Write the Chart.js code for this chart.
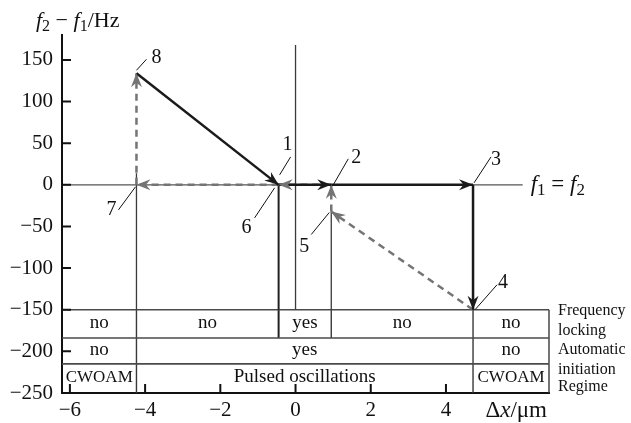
<!DOCTYPE html>
<html>
<head>
<meta charset="utf-8">
<style>
  html, body { margin: 0; padding: 0; background: #fff; }
</style>
<script src="https://cdn.jsdelivr.net/npm/chart.js@4.4.1/dist/chart.umd.min.js"></script>
</head>
<body>
<canvas id="chart" width="631" height="423"></canvas>
<script>
const xTicks = [-6, -4, -2, 0, 2, 4];
const yTicks = [150, 100, 50, 0, -50, -100, -150, -200, -250];

// operating points 1..8: offset dx (um) and beat f2 - f1 (Hz)
const pointNames = ["1", "2", "3", "4", "5", "6", "7", "8"];
const pointX = [-0.45, 0.95, 4.72, 4.72, 0.95, -0.45, -4.23, -4.23];
const pointY = [0, 0, 0, -150, -32, 0, 0, 134];

// path through the points (by number): solid going forward, dashed coming back
const forwardPath = [8, 1, 2, 3, 4];
const returnPath = [4, 5, 2, 6, 7, 8];

// vertical guide lines from the points down to the table
const stemX = [-4.23, -0.45, 0.95, 0];
const stemTop = [14, 0, -32, 168];

// table under the plot
const rowEdges = [-150, -184, -215, -250];
const rowNames = [["Frequency", "locking"], ["Automatic", "initiation"], ["Regime"]];
const rowBreaks = [
  [-4.23, -0.45, 0.95, 4.72],
  [-4.23, 4.72],
  [-4.23, 4.72]
];
const rowCells = [
  ["no", "no", "yes", "no", "no"],
  ["no", "yes", "no"],
  ["CWOAM", "Pulsed oscillations", "CWOAM"]
];

const X_MIN = -6.21, X_MAX = 6.74, Y_MIN = -250, Y_MAX = 180;
const ZERO_END = 6.04;

const FONT = "Liberation Serif";
const BLACK = "#1a1a1a";
const GREY = "#747474";
const LINE = "#3a3a3a";

// leader line / number placement around each point, px: [x0, y0, x1, y1, tx, ty]
const labelPlace = {
  "1": [1, -10, 12, -28, 9, -40],
  "2": [2, 0, 17, -26, 25, -27],
  "3": [1, -2, 18, -28, 23, -25],
  "4": [2, 0, 24, -25, 30, -27],
  "5": [-20, 23, -2, 1, -27, 35],
  "6": [-24, 33, -4, 3, -32, 43],
  "7": [-18, 25, -1, 2, -25, 25],
  "8": [0, -3, 10, -14, 20, -16]
};

const pt = (n) => ({ x: pointX[n - 1], y: pointY[n - 1] });

function segment(a, b, color, width, dash, arrow) {
  return {
    data: [a, b],
    showLine: true,
    borderColor: color,
    borderWidth: width,
    borderDash: dash || [],
    pointRadius: 0,
    arrow: !!arrow,
    clip: false
  };
}

const datasets = [];
for (let i = 0; i < forwardPath.length - 1; i++) {
  datasets.push(segment(pt(forwardPath[i]), pt(forwardPath[i + 1]), BLACK, 2.5, null, true));
}
for (let i = 0; i < returnPath.length - 1; i++) {
  datasets.push(segment(pt(returnPath[i]), pt(returnPath[i + 1]), GREY, 2.5, [7, 5], true));
}
// f1 = f2 line
datasets.push(segment({ x: X_MIN, y: 0 }, { x: ZERO_END, y: 0 }, "#555", 1.4));
// stems
stemX.forEach((x, i) => {
  const heavy = x === -0.45;
  datasets.push(segment({ x: x, y: stemTop[i] }, { x: x, y: rowEdges[0] }, heavy ? "#222" : LINE, heavy ? 2 : 1.3));
});
// table rows and cell borders
rowEdges.slice(0, 3).forEach((y) => {
  datasets.push(segment({ x: X_MIN, y: y }, { x: X_MAX, y: y }, "#4a4a4a", 1.6));
});
rowBreaks.forEach((br, r) => {
  br.concat([X_MAX]).forEach((x) => {
    const heavy = r === 0 && x === -0.45;
    datasets.push(segment({ x: x, y: rowEdges[r] }, { x: x, y: rowEdges[r + 1] }, heavy ? "#222" : LINE, heavy ? 2 : 1.4));
  });
});

function richText(ctx, x, y, parts, size, align) {
  const sub = Math.round(size * 0.74);
  const fontOf = (s) => (s === "i" ? "italic " : "") + (s === "s" ? sub : size) + "px " + FONT;
  let w = 0;
  parts.forEach(([t, s]) => { ctx.font = fontOf(s); w += ctx.measureText(t).width; });
  let cx = align === "right" ? x - w : x;
  ctx.textAlign = "left";
  ctx.textBaseline = "alphabetic";
  parts.forEach(([t, s]) => {
    ctx.font = fontOf(s);
    ctx.fillText(t, cx, y + (s === "s" ? size * 0.2 : 0));
    cx += ctx.measureText(t).width;
  });
}

const arrowHeads = {
  id: "arrowHeads",
  afterDatasetsDraw(chart) {
    const ctx = chart.ctx;
    chart.data.datasets.forEach((ds, i) => {
      if (!ds.arrow) return;
      const pts = chart.getDatasetMeta(i).data;
      const p0 = pts[pts.length - 2], p1 = pts[pts.length - 1];
      const a = Math.atan2(p1.y - p0.y, p1.x - p0.x);
      ctx.save();
      ctx.translate(p1.x, p1.y);
      ctx.rotate(a);
      ctx.beginPath();
      ctx.moveTo(0, 0);
      ctx.lineTo(-14, -5.5);
      ctx.lineTo(-9.5, 0);
      ctx.lineTo(-14, 5.5);
      ctx.closePath();
      ctx.fillStyle = ds.borderColor;
      ctx.fill();
      ctx.restore();
    });
  }
};

const decorations = {
  id: "decorations",
  afterDraw(chart) {
    const ctx = chart.ctx;
    const xs = chart.scales.x, ys = chart.scales.y;
    const area = chart.chartArea;
    ctx.save();
    ctx.fillStyle = "#111";
    ctx.strokeStyle = "#111";

    // inward ticks
    ctx.lineWidth = 2;
    ctx.beginPath();
    xTicks.forEach((v) => {
      const px = xs.getPixelForValue(v);
      ctx.moveTo(px, area.bottom);
      ctx.lineTo(px, area.bottom - 9);
    });
    yTicks.forEach((v) => {
      const py = ys.getPixelForValue(v);
      ctx.moveTo(area.left, py);
      ctx.lineTo(area.left + 9, py);
    });
    ctx.stroke();

    // table texts
    ctx.textAlign = "center";
    ctx.textBaseline = "middle";
    rowCells.forEach((cells, r) => {
      const edges = [X_MIN].concat(rowBreaks[r], [X_MAX]);
      const yMid = (ys.getPixelForValue(rowEdges[r]) + ys.getPixelForValue(rowEdges[r + 1])) / 2;
      cells.forEach((t, k) => {
        const xMid = (xs.getPixelForValue(edges[k]) + xs.getPixelForValue(edges[k + 1])) / 2;
        ctx.font = (t === "CWOAM" ? 17 : 19) + "px " + FONT;
        ctx.fillText(t, xMid, yMid - 1);
      });
    });

    // row names at the right
    ctx.font = "16px " + FONT;
    ctx.textAlign = "left";
    const nameX = xs.getPixelForValue(X_MAX) + 9;
    const nameY = [[311, 331], [350, 370], [387]];
    rowNames.forEach((lines, r) => {
      lines.forEach((t, k) => ctx.fillText(t, nameX, nameY[r][k]));
    });

    // point numbers with leaders
    ctx.font = "20px " + FONT;
    ctx.textAlign = "center";
    ctx.lineWidth = 1;
    pointNames.forEach((name, i) => {
      const px = xs.getPixelForValue(pointX[i]);
      const py = ys.getPixelForValue(pointY[i]);
      const p = labelPlace[name];
      ctx.beginPath();
      ctx.moveTo(px + p[0], py + p[1]);
      ctx.lineTo(px + p[2], py + p[3]);
      ctx.stroke();
      ctx.fillText(name, px + p[4], py + p[5]);
    });

    // axis titles
    richText(ctx, 36, 27, [["f", "i"], ["2", "s"], [" \u2212 ", ""], ["f", "i"], ["1", "s"], ["/Hz", ""]], 22, "left");
    richText(ctx, 547, 417, [["\u0394", ""], ["x", "i"], ["/\u03bcm", ""]], 23, "right");
    const zy = ys.getPixelForValue(0);
    richText(ctx, xs.getPixelForValue(ZERO_END) + 8, zy + 6, [["f", "i"], ["1", "s"], [" = ", ""], ["f", "i"], ["2", "s"]], 23, "left");
    ctx.restore();
  }
};

const fmt = (v) => String(v).replace("-", "\u2212");

new Chart(document.getElementById("chart"), {
  type: "scatter",
  data: { datasets: datasets },
  plugins: [arrowHeads, decorations],
  options: {
    responsive: false,
    animation: false,
    devicePixelRatio: 1,
    layout: { padding: { top: 35, right: 82, left: 0, bottom: 0 } },
    plugins: { legend: { display: false }, tooltip: { enabled: false } },
    scales: {
      x: {
        type: "linear",
        min: X_MIN,
        max: X_MAX,
        afterBuildTicks: (s) => { s.ticks = xTicks.map((v) => ({ value: v })); },
        afterFit: (s) => { s.height = 30; },
        grid: { display: false, drawTicks: false },
        border: { display: true, color: "#111", width: 2 },
        ticks: { color: "#111", padding: 5, font: { family: FONT, size: 21 }, callback: fmt, maxRotation: 0 }
      },
      y: {
        type: "linear",
        min: Y_MIN,
        max: Y_MAX,
        afterBuildTicks: (s) => { s.ticks = yTicks.map((v) => ({ value: v })); },
        afterFit: (s) => { s.width = 62; },
        grid: { display: false, drawTicks: false },
        border: { display: true, color: "#111", width: 2 },
        ticks: { color: "#111", padding: 9, font: { family: FONT, size: 21 }, callback: fmt }
      }
    }
  }
});
</script>
</body>
</html>
